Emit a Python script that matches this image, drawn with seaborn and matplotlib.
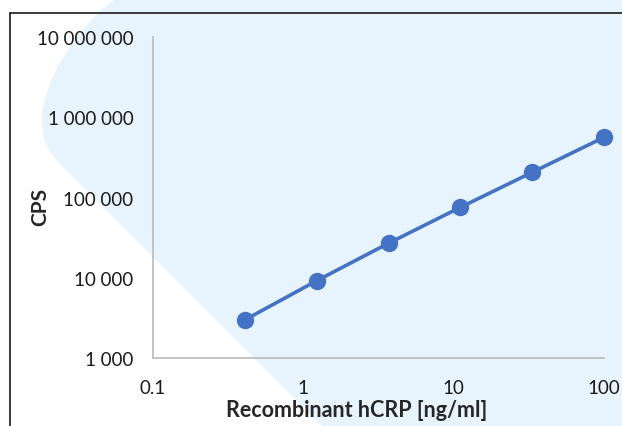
import matplotlib
matplotlib.use("Agg")
import matplotlib.pyplot as plt
from matplotlib.patches import Polygon
from matplotlib.lines import Line2D
from matplotlib.ticker import FuncFormatter, FixedLocator, NullLocator
import seaborn as sns

# data (log-log standard curve)
concentration = [0.41, 1.23, 3.7, 11.1, 33.3, 100]
cps = [3000, 9200, 27000, 75500, 206000, 562000]
x_ticks = [0.1, 1, 10, 100]
x_tick_labels = ["0.1", "1", "10", "100"]
y_ticks = [1e3, 1e4, 1e5, 1e6, 1e7]

W, H = 622, 427

sns.set_style("white")
plt.rcParams['font.family'] = ['Lato', 'DejaVu Sans']

fig = plt.figure(figsize=(W / 100, H / 100), dpi=100)
fig.patch.set_facecolor('white')


def px(x, y):
    return (x / W, 1 - y / H)


# light blue background shape
shape = [(115, 0), (W, 0), (W, H), (322, H), (65, 170), (58, 163), (51, 154),
         (45, 142), (42, 128), (42, 113), (46, 97), (51, 82), (58, 67), (67, 52),
         (77, 38), (88, 25), (100, 12)]
fig.patches.append(Polygon([px(*p) for p in shape], closed=True, transform=fig.transFigure,
                           facecolor='#E8F4FD', edgecolor='none', zorder=-10))
# frame
fig.lines.append(Line2D([px(10, 14)[0], 1], [px(10, 14)[1]] * 2, transform=fig.transFigure,
                        color='#1a1a1a', lw=1.2, zorder=-5))
fig.lines.append(Line2D([px(10, 14)[0]] * 2, [px(10, 14)[1], 0], transform=fig.transFigure,
                        color='#1a1a1a', lw=1.2, zorder=-5))

ax = fig.add_axes([153 / W, 1 - 359 / H, (604 - 153) / W, (359 - 38) / H])
ax.set_zorder(5)
ax.set_facecolor('none')

sns.lineplot(x=concentration, y=cps, marker='o', color='#4472C4', lw=2.6,
             markersize=12.5, markeredgewidth=0, ax=ax, clip_on=False)

ax.set_xscale('log')
ax.set_yscale('log')
ax.set_xlim(0.1, 100)
ax.set_ylim(1e3, 1e7)
ax.xaxis.set_major_locator(FixedLocator(x_ticks))
ax.xaxis.set_minor_locator(NullLocator())
ax.yaxis.set_major_locator(FixedLocator(y_ticks))
ax.yaxis.set_minor_locator(NullLocator())
ax.set_xticklabels(x_tick_labels)
ax.yaxis.set_major_formatter(FuncFormatter(lambda v, _: f"{int(round(v)):,}".replace(",", " ")))

for s in ['top', 'right']:
    ax.spines[s].set_visible(False)
for s in ['left', 'bottom']:
    ax.spines[s].set_color('#BFBFBF')
    ax.spines[s].set_linewidth(1.3)

ax.tick_params(axis='both', length=0, labelsize=13.5, colors='#1a1a1a')
ax.tick_params(axis='y', pad=14)
ax.tick_params(axis='x', pad=15)

ax.set_xlabel('Recombinant hCRP [ng/ml]', fontsize=15.5, fontweight='bold', va='center')
ax.set_ylabel('CPS', fontsize=15, fontweight='bold', va='center')
ax.xaxis.set_label_coords((357 - 153) / 451, (359 - 411) / 321)
ax.yaxis.set_label_coords((40 - 153) / 451, (359 - 207) / 321)

fig.savefig('out.png', dpi=100)
